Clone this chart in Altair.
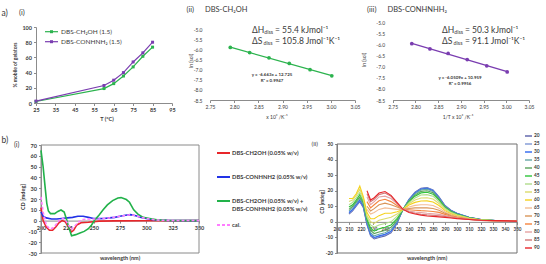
import altair as alt
import pandas as pd

W, H = 546, 264
FONT = 'Lato, "Noto Sans", "DejaVu Sans", sans-serif'
INK = "#3a3a3a"
AXC = "#8c8c8c"
GREEN = "#2cb34e"
PURPLE = "#7a3db0"

# ---------------- a(i): fraction of mobile gelator vs temperature ----------------
temp_c = [25, 60, 65, 70, 75, 80, 85]
mobile_ch2oh = [2, 19, 25.5, 35.5, 47.5, 61.5, 73.5]
mobile_conhnh2 = [2.5, 23, 30, 40, 54, 66, 80]
a1_names = ["DBS-CH₂OH (1.5)", "DBS-CONHNH₂ (1.5)"]
a1_colors = [GREEN, PURPLE]

# ---------------- a(ii), a(iii): van't Hoff plots ----------------
inv_temp = [2.792, 2.832, 2.872, 2.914, 2.957, 3.002]
ln_sol_ch2oh = [-5.90, -6.15, -6.41, -6.69, -7.00, -7.30]
ln_sol_conhnhh2 = [-5.95, -6.19, -6.39, -6.67, -6.95, -7.23]
vh_x_ticks = [2.75, 2.80, 2.85, 2.90, 2.95, 3.00, 3.05]
vh_y_ticks = [-8.5, -8.0, -7.5, -7.0, -6.5, -6.0, -5.5, -5.0]

# ---------------- b(i): CD spectra of single gelators, mixture and calculated sum ----------------
wl_ch2oh = [200, 202, 205, 208, 211, 214, 217, 220, 223, 226, 229, 231, 234, 238, 245, 255, 270, 300, 350]
cd_ch2oh = [12, 0, -6, -9, -9, -6, -2, 0, -1, -6, -10.5, -9, -4, -2, -1.5, -0.5, -0.3, -0.2, 0]
wl_conhnh2 = [200, 202, 205, 210, 215, 220, 225, 230, 235, 240, 245, 250, 255, 260, 265, 270, 275, 280, 285,
              290, 295, 300, 305, 310, 320, 350]
cd_conhnh2 = [8, 4, 2.5, 1.5, 1.5, 2, 2.5, 3, 4, 4, 3, 2, 1.8, 2, 2.5, 3, 4, 5, 5.5,
              4.5, 3, 2, 1, 0.5, 0.2, 0]
wl_mix = [200, 202, 204, 205.5, 207, 209, 213, 216, 219, 222, 224, 226, 229, 233, 237, 241, 245, 248, 251,
          255, 259, 263, 268, 273, 276, 281, 284, 288, 292, 297, 303, 310, 320, 350]
cd_mix = [65, 50, 30, 16, 9, 6.5, 6.5, 8.5, 9.8, 8, 2, -5, -14, -13, -11.5, -10, -7.5, -4, 0.5,
          5, 10, 14.5, 18.5, 21, 21.3, 19.5, 17, 10, 6, 3, 2, 0.7, 0.2, 0]
wl_cal = [200, 202, 205, 208, 211, 214, 217, 220, 223, 226, 229, 232, 236, 240, 245, 255, 265, 275, 285,
          290, 295, 300, 310, 320, 350]
cd_cal = [22, 8, -4, -7.5, -7, -4, 0, 2, 1, -4, -8, -5, -1, 1, 1.5, 1.5, 2.5, 4, 5.5,
          4.5, 3, 2, 0.5, 0.2, 0]
b1_keys = ["DBS-CH2OH (0.05% w/v)", "DBS-CONHNH2 (0.05% w/v)", "DBS-CH2OH (0.05% w/v) +", "cal."]
b1_second = ["", "", "DBS-CONHNH2 (0.05% w/v)", ""]
b1_colors = ["#e8262a", "#2233e6", "#22b24a", "#ff7dff"]

# ---------------- b(ii): variable-temperature CD of the mixture ----------------
wl_vt = [210, 213, 216, 219, 222, 225, 228, 231, 235, 240, 245, 250, 255, 260, 265, 270, 275, 280, 285,
         290, 295, 300, 310, 320, 335, 350]
N = None
cd_vt = {
    "20": [5, 7, 10, 13, 9, -2, -9, -11, -10, -9, -7, -1, 8, 14.5, 19, 21.5, 22, 20.5, 16, 10.5, 7.5, 5.5, 3, 1.5, 0.7, 0.3],
    "25": [5.5, 7.5, 10.5, 13.5, 9.5, -1.5, -8.5, -10.5, -9.5, -8.5, -6.5, -0.7, 8, 14.3, 18.8, 21.3, 21.8, 20.3, 15.8, 10.3, 7.3, 5.4, 3, 1.5, 0.7, 0.3],
    "30": [6, 8, 11, 14, 10, -1, -8, -10, -9, -8, -6, -0.4, 8, 14.1, 18.5, 21, 21.5, 20, 15.5, 10.1, 7.2, 5.3, 2.9, 1.5, 0.7, 0.3],
    "35": [7, 9, 12, 15, 11, 0, -7, -9, -8, -7, -5, 0.2, 8, 13.8, 18, 20.5, 21, 19.5, 15.1, 9.9, 7, 5.1, 2.8, 1.4, 0.7, 0.3],
    "40": [8, 10, 13, 16, 12, 1, -5.5, -7.5, -6.5, -5.5, -3.5, 1, 8, 13.4, 17.2, 19.6, 20, 18.7, 14.5, 9.6, 6.8, 5, 2.7, 1.4, 0.7, 0.3],
    "45": [9.5, 11, 14, 17.5, 13, 2, -4, -6, -4.5, -3.5, -2, 2, 8, 13, 16.5, 18.6, 19, 17.8, 13.9, 9.2, 6.5, 4.8, 2.6, 1.3, 0.7, 0.3],
    "50": [11, 12.5, 15.5, 19, 14, 3, -2, -3.5, -2, -1, 0, 3.5, 8, 12.4, 15.4, 17.2, 17.5, 16.5, 13, 8.7, 6.1, 4.5, 2.5, 1.3, 0.6, 0.3],
    "55": [13, 14, 17, 21, 15, 4, 0, -1, 1, 2, 3, 5, 8, 11.6, 14, 15.3, 15.5, 14.7, 11.8, 8, 5.6, 4.2, 2.3, 1.2, 0.6, 0.3],
    "60": [15, 15, 18, 23, 16, 6, 2, 2, 4, 5.5, 5.5, 6.5, 8, 10.8, 12.5, 13.4, 13.5, 12.8, 10.5, 7.2, 5.1, 3.8, 2.1, 1.1, 0.6, 0.3],
    "65": [N, N, N, N, N, 8, 5, 6, 8, 9, 8.5, 8, 8, 9.6, 10.6, 11, 11, 10.5, 8.8, 6.3, 4.5, 3.4, 1.9, 1, 0.6, 0.3],
    "70": [N, N, N, N, N, 10, 7, 8.5, 11, 12, 11, 9.5, 8, 8.6, 9, 9, 9, 8.6, 7.5, 5.6, 4.1, 3.1, 1.8, 1, 0.6, 0.3],
    "75": [N, N, N, N, N, 13, 9, 11, 13.5, 14.5, 13, 10.5, 8, 7.8, 7.5, 7.2, 7, 6.7, 6.1, 4.8, 3.6, 2.8, 1.7, 0.9, 0.6, 0.3],
    "80": [N, N, N, N, N, 16, 11, 13, 16, 16.5, 15, 11.5, 8, 7, 6.3, 5.9, 5.5, 5.2, 4.8, 4, 3.2, 2.5, 1.6, 0.9, 0.6, 0.3],
    "85": [N, N, N, N, N, 18, 13, 14.5, 17.5, 18.5, 16.5, 12, 8, 6.5, 5.5, 4.9, 4.5, 4.2, 3.9, 3.4, 2.8, 2.3, 1.5, 0.9, 0.6, 0.3],
    "90": [N, N, N, N, N, 20, 14, 15.5, 18.5, 19.5, 17, 12.5, 8, 6, 5, 4.3, 3.8, 3.5, 3.2, 2.9, 2.5, 2.1, 1.5, 1, 0.8, 0.5],
}
vt_labels = list(cd_vt.keys())
vt_colors = ["#5a5fa8", "#7e97d4", "#2f66f0", "#66a7a7", "#5aa35a", "#2fc43a", "#b0dc8c", "#dcdc6e",
             "#f5d21e", "#f3bd96", "#d9955a", "#f5853f", "#e5a3a3", "#d17878", "#e8262a"]

ONE = pd.DataFrame({"k": [0]})


def text(s, x, y, size=6.0, weight="normal", align="left", angle=0, color=INK):
    return alt.Chart(ONE).mark_text(
        text=s, font=FONT, fontSize=size, fontWeight=weight, align=align,
        baseline="middle", angle=angle, color=color,
    ).encode(x=alt.value(x), y=alt.value(y))


def axis(orient, at, values, fmt, size=5.5, weight="bold", domain=True, ticks=True, pad=2):
    return alt.Axis(
        orient=orient, offset=(-at if orient == "left" else at - H), values=values, format=fmt,
        labelExpr="replace(datum.label, '\u2212', '-')", title="", grid=False,
        labelFont=FONT, labelFontSize=size, labelFontWeight=weight, labelColor=INK,
        labelPadding=pad, labelOverlap=False, labelFlush=False,
        domain=domain, domainColor=AXC, domainWidth=1,
        ticks=ticks, tickColor=AXC, tickSize=2.5,
    )


def qscale(domain, rng):
    return alt.Scale(domain=domain, range=rng, nice=False, zero=False)


def rows(domain, rng):
    # evenly spaced legend rows between two pixel rows
    return alt.Scale(type="point", domain=domain, range=rng, padding=0)


# ---- a(i) ----
a1 = pd.DataFrame({
    "T": temp_c * 2,
    "v": mobile_ch2oh + mobile_conhnh2,
    "s": [a1_names[0]] * len(temp_c) + [a1_names[1]] * len(temp_c),
})
a1_x = alt.X("T:Q", scale=qscale([25, 95], [36, 172]),
             axis=axis("bottom", 103, list(range(25, 96, 10)), "d"))
a1_y = alt.Y("v:Q", scale=qscale([0, 100], [103, 27]),
             axis=axis("left", 36, list(range(0, 101, 20)), "d"))
a1_c = alt.Color("s:N", scale=alt.Scale(domain=a1_names, range=a1_colors), legend=None)
a1_base = alt.Chart(a1).encode(x=a1_x, y=a1_y, color=a1_c)
panel_a1 = alt.layer(
    a1_base.mark_line(strokeWidth=1.2),
    a1_base.mark_point(shape="square", filled=True, size=9, opacity=1),
)

leg_a1 = pd.DataFrame({"s": a1_names})
la_y = alt.Y("s:N", scale=rows(a1_names, [31.7, 41.7]), axis=None)
legend_a1 = alt.layer(
    alt.Chart(leg_a1).mark_rule(strokeWidth=1.2).encode(x=alt.value(45), x2=alt.value(58), y=la_y, color=a1_c),
    alt.Chart(leg_a1).mark_point(shape="square", filled=True, size=9, opacity=1).encode(
        x=alt.value(51.5), y=la_y, color=a1_c),
    alt.Chart(leg_a1).mark_text(align="left", baseline="middle", font=FONT, fontSize=6.5, color=INK).encode(
        x=alt.value(61), y=la_y, text="s:N"),
)


# ---- a(ii), a(iii) ----
def vant_hoff(lnsol, color, xr, yr):
    df = pd.DataFrame({"x": inv_temp, "y": lnsol})
    ex = alt.X("x:Q", scale=qscale([2.75, 3.05], xr),
               axis=axis("bottom", yr[0], vh_x_ticks, ".2f", size=5, weight="normal"))
    ey = alt.Y("y:Q", scale=qscale([-8.5, -5.0], yr),
               axis=axis("left", xr[0], vh_y_ticks, ".1f", size=5, weight="normal",
                         domain=False, ticks=False, pad=8))
    return alt.layer(
        alt.Chart(df).transform_regression("x", "y").mark_line(color=color, strokeWidth=1.3).encode(x=ex, y=ey),
        alt.Chart(df).mark_circle(color=color, size=14, opacity=1).encode(x=ex, y=ey),
    )


panel_a2 = vant_hoff(ln_sol_ch2oh, GREEN, [210, 355], [100, 29.3])
panel_a3 = vant_hoff(ln_sol_conhnhh2, PURPLE, [392.7, 529], [100, 22.7])

# ---- b(i) ----
b1_x = alt.X("wl:Q", scale=qscale([200, 350], [41, 199]),
             axis=axis("bottom", 220.6, list(range(200, 351, 25)), "d", size=5.5))
b1_y = alt.Y("cd:Q", scale=qscale([-30, 70], [253, 145]),
             axis=axis("left", 41, list(range(-30, 71, 10)), "d", size=5.5))


def cd_line(wl, cd, color, dash=None):
    df = pd.DataFrame({"wl": wl, "cd": cd})
    kw = {"strokeDash": dash} if dash else {}
    return alt.Chart(df).mark_line(color=color, strokeWidth=1.6, **kw).encode(x=b1_x, y=b1_y)


frame_b1 = alt.Chart(ONE).mark_rect(fillOpacity=0, stroke="#8a8a8a", strokeWidth=1).encode(
    x=alt.value(41), x2=alt.value(199), y=alt.value(145), y2=alt.value(253))
panel_b1 = alt.layer(
    cd_line(wl_ch2oh, cd_ch2oh, b1_colors[0]),
    cd_line(wl_conhnh2, cd_conhnh2, b1_colors[1]),
    cd_line(wl_mix, cd_mix, b1_colors[2]),
    cd_line(wl_cal, cd_cal, b1_colors[3], dash=[3, 2]),
)

leg_b1 = pd.DataFrame({"k": b1_keys, "l2": b1_second})
lb_y = alt.Y("k:N", scale=rows(b1_keys, [153, 225]), axis=None)
lb_c = alt.Color("k:N", scale=alt.Scale(domain=b1_keys, range=b1_colors), legend=None)
lb_d = alt.StrokeDash("k:N", scale=alt.Scale(domain=b1_keys, range=[[1, 0], [1, 0], [1, 0], [3, 2]]), legend=None)
legend_b1 = alt.layer(
    alt.Chart(leg_b1).mark_rule(strokeWidth=1.8).encode(
        x=alt.value(217), x2=alt.value(230), y=lb_y, color=lb_c, strokeDash=lb_d),
    alt.Chart(leg_b1).mark_text(align="left", baseline="middle", font=FONT, fontSize=5.8,
                                fontWeight="bold", color=INK).encode(x=alt.value(232), y=lb_y, text="k:N"),
    alt.Chart(leg_b1).mark_text(align="left", baseline="middle", font=FONT, fontSize=5.8, dy=8.3,
                                fontWeight="bold", color=INK).encode(x=alt.value(232), y=lb_y, text="l2:N"),
)

# ---- b(ii) ----
vt_rows = [
    {"T": t, "wl": w, "cd": v}
    for t in vt_labels
    for w, v in zip(wl_vt, cd_vt[t])
    if v is not None
]
b2 = pd.DataFrame(vt_rows)
b2_x = alt.X("wl:Q", scale=qscale([200, 350], [337, 517]),
             axis=axis("bottom", 221.9, list(range(200, 351, 10)), "d", size=4.6))
b2_y = alt.Y("cd:Q", scale=qscale([-20, 50], [253, 144]),
             axis=axis("left", 337, list(range(-20, 51, 10)), "d", size=4.8))
vt_c = alt.Color("T:N", scale=alt.Scale(domain=vt_labels, range=vt_colors), legend=None)
frame_b2 = alt.Chart(ONE).mark_rect(fillOpacity=0, stroke="#707070", strokeWidth=1).encode(
    x=alt.value(337), x2=alt.value(517), y=alt.value(144), y2=alt.value(253))
panel_b2 = alt.Chart(b2).mark_line(strokeWidth=1.1).encode(x=b2_x, y=b2_y, color=vt_c)

leg_b2 = pd.DataFrame({"T": vt_labels})
lv_y = alt.Y("T:N", scale=rows(vt_labels, [136, 248]), axis=None)
legend_b2 = alt.layer(
    alt.Chart(leg_b2).mark_rule(strokeWidth=1.4).encode(x=alt.value(525), x2=alt.value(532), y=lv_y, color=vt_c),
    alt.Chart(leg_b2).mark_text(align="left", baseline="middle", font=FONT, fontSize=4.8,
                                fontWeight="bold", color=INK).encode(x=alt.value(534), y=lv_y, text="T:N"),
)


# ---- titles and annotations ----
def thermo(x0, y0, dh, ds):
    return [
        text("ΔH", x0, y0, size=8.5),
        text("diss", x0 + 12.3, y0 + 2.4, size=5.3),
        text("= " + dh + " kJmol⁻¹", x0 + 23, y0, size=8.5),
        text("ΔS", x0, y0 + 11, size=8.5),
        text("diss", x0 + 11.6, y0 + 13.4, size=5.3),
        text("= " + ds + " Jmol⁻¹K⁻¹", x0 + 23, y0 + 11, size=8.5),
    ]


labels = [
    text("a)", 1.5, 12.7, size=8.5),
    text("(i)", 19, 12.7, size=7.5),
    text("% mobile of gelators", 15, 65, size=5, weight="bold", align="center", angle=270),
    text("T (°C)", 107, 118.5, size=5.5, weight="bold", align="center"),
    text("(ii)", 186.5, 9.5, size=7.5),
    text("DBS-CH₂OH", 205, 9.5, size=7.5),
    text("ln (sol)", 191, 61, size=5, align="center", angle=270),
    text("x 10³ /K⁻¹", 277, 116.5, size=5, align="center"),
    text("y = -6.663x + 12.725", 272, 75.3, size=4.4, weight="bold", align="center"),
    text("R² = 0.9947", 272, 80.7, size=4.4, weight="bold", align="center"),
    text("(iii)", 367, 9.5, size=7.5),
    text("DBS-CONHNHH₂", 387.5, 9.5, size=7.5),
    text("ln (sol)", 364, 60, size=5, align="center", angle=270),
    text("1/T x 10³ /K⁻¹", 458, 116.5, size=5, align="center"),
    text("y = -6.0509x + 10.959", 460, 77.5, size=4.4, weight="bold", align="center"),
    text("R² = 0.9956", 460, 83.8, size=4.4, weight="bold", align="center"),
    text("b)", 1.5, 140, size=8.5),
    text("(i)", 14, 145, size=7),
    text("CD [mdeg]", 22.5, 197, size=5.5, weight="bold", align="center", angle=270),
    text("wavelength (nm)", 120, 258, size=5.5, weight="bold", align="center"),
    text("(ii)", 311.5, 144, size=6.5),
    text("CD [mdeg]", 322, 202, size=5, weight="bold", align="center", angle=270),
    text("wavelength (nm)", 427, 258, size=5.5, weight="bold", align="center"),
] + thermo(252, 29.5, "55.4", "105.8") + thermo(442, 30, "50.3", "91.1")

chart = (
    alt.layer(
        panel_a1, legend_a1, panel_a2, panel_a3,
        frame_b1, panel_b1, legend_b1,
        frame_b2, panel_b2, legend_b2,
        *labels,
    )
    .resolve_scale(x="independent", y="independent", color="independent", strokeDash="independent")
    .resolve_axis(x="independent", y="independent")
    .properties(width=W, height=H, autosize=alt.AutoSizeParams(type="none"), padding=0,
                background="white")
    .configure_view(stroke="transparent")
)

chart.save("out.html", embed_options={"renderer": "svg", "actions": False})
